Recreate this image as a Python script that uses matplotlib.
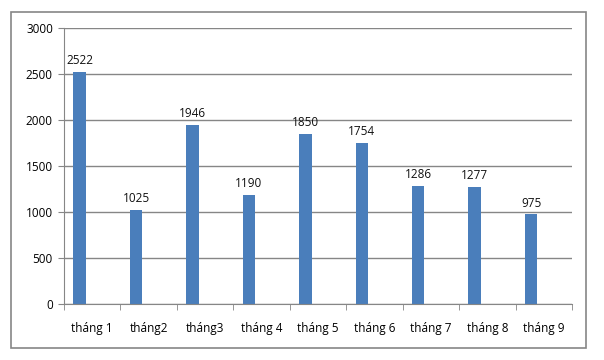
import matplotlib.pyplot as plt
import numpy as np

months = ['tháng 1', 'tháng2', 'tháng3', 'tháng 4', 'tháng 5', 'tháng 6', 'tháng 7', 'tháng 8', 'tháng 9']
values = [2522, 1025, 1946, 1190, 1850, 1754, 1286, 1277, 975]
yticks = [0, 500, 1000, 1500, 2000, 2500, 3000]

plt.rcParams['font.family'] = ['Open Sans', 'DejaVu Sans']

fig = plt.figure(figsize=(6.04, 3.6), dpi=100)

# khung ngoài
frame = plt.Rectangle((11 / 604, 1 - 348 / 360), 575 / 604, 336 / 360, transform=fig.transFigure,
                      fill=False, edgecolor='#868686', linewidth=1.2)
fig.patches.append(frame)

ax = fig.add_axes([64 / 604, 1 - 304 / 360, 508 / 604, 276 / 360])

x = np.arange(len(values))
bar_pos = x - 0.5 + 0.275
ax.bar(bar_pos, values, width=0.22, color='#4a7ebb')

for xp, v in zip(bar_pos, values):
    ax.text(xp, v + 50, str(v), ha='center', va='bottom', fontsize=8.5, color='#111111')

ax.set_xlim(-0.5, len(values) - 0.5)
ax.set_ylim(0, 3000)
ax.set_yticks(yticks)
ax.set_yticklabels([str(t) for t in yticks], fontsize=8.5)
ax.set_xticks(x)
ax.set_xticklabels(months, fontsize=8.5)
ax.set_xticks(np.arange(len(values) + 1) - 0.5, minor=True)
ax.tick_params(axis='x', which='major', length=0, pad=13)
ax.tick_params(axis='x', which='minor', length=4, color='#868686', direction='out')
ax.tick_params(axis='y', length=4, color='#868686', direction='out', pad=4)

ax.grid(axis='y', color='#868686', linewidth=1)
ax.set_axisbelow(True)
for s in ['top', 'right']:
    ax.spines[s].set_visible(False)
for s in ['left', 'bottom']:
    ax.spines[s].set_color('#868686')

fig.savefig('out.png', dpi=100)
